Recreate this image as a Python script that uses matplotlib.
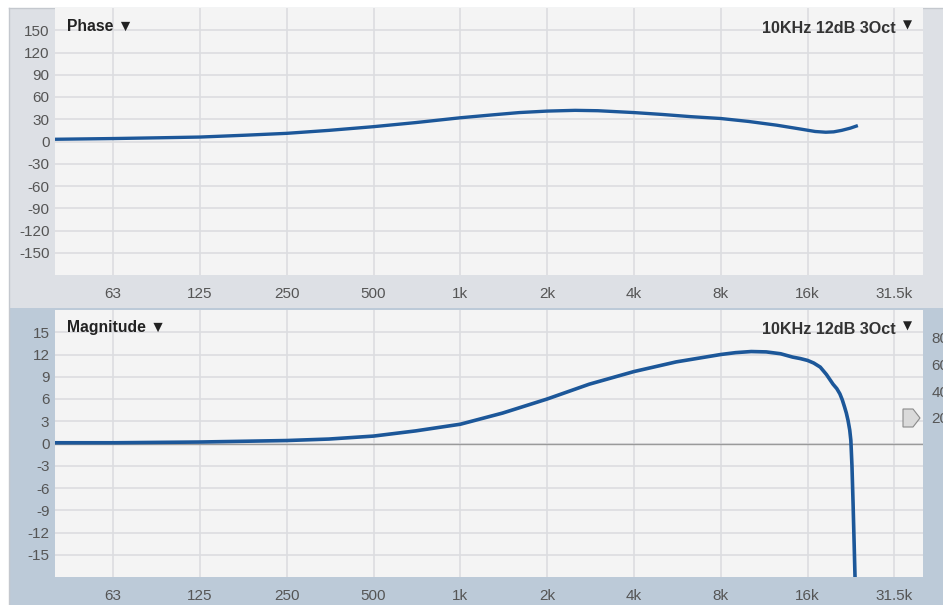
import matplotlib
matplotlib.use("Agg")
import matplotlib.pyplot as plt
from matplotlib.patches import Rectangle, Polygon

plt.rcParams["axes.unicode_minus"] = False

# frequency axis
x_ticks = [62.5, 125, 250, 500, 1000, 2000, 4000, 8000, 16000, 32000]
x_labels = ["63", "125", "250", "500", "1k", "2k", "4k", "8k", "16k", "31.5k"]

# phase response (deg)
phase_freq = [39.3, 63, 90, 125, 180, 250, 350, 500, 700, 1000, 1300, 1600, 2000, 2500,
              3000, 4000, 5000, 6300, 8000, 10000, 12500, 15000, 17000, 18500, 19700,
              21000, 22500, 23900]
phase_deg = [3, 4, 5, 6, 8.5, 11, 15, 20, 25.5, 32, 36, 39, 41, 42,
             41.5, 39, 36.5, 33.5, 31, 27, 22, 17, 13.5, 12.5, 13,
             15, 18, 21.5]

# magnitude response (dB)
mag_freq = [39.3, 63, 125, 250, 350, 500, 700, 1000, 1400, 2000, 2800, 4000, 5600,
            8000, 9000, 10200, 11500, 12900, 14200, 15100, 16000, 16800, 17700, 18600,
            19600, 20200, 20700, 21100, 21500, 21800, 22100, 22400, 22600, 22800,
            23000, 23200, 23400]
mag_db = [0.1, 0.1, 0.2, 0.4, 0.6, 1.0, 1.7, 2.6, 4.1, 6.0, 8.0, 9.7, 11.0,
          12.0, 12.25, 12.4, 12.35, 12.1, 11.65, 11.45, 11.2, 10.85, 10.3, 9.3,
          8.0, 7.4, 6.7, 5.9, 4.9, 4.1, 3.1, 1.8, 0.4, -3,
          -8, -13.5, -19]

phase_ticks = [150, 120, 90, 60, 30, 0, -30, -60, -90, -120, -150]
mag_ticks = [15, 12, 9, 6, 3, 0, -3, -6, -9, -12, -15]
right_ticks = [80, 60, 40, 20]

W, H = 943, 605
fig = plt.figure(figsize=(W / 100, H / 100), dpi=100)
fig.patch.set_facecolor("white")

# background panels drawn in pixel space
bg = fig.add_axes([0, 0, 1, 1])
bg.set_xlim(0, W)
bg.set_ylim(H, 0)
bg.axis("off")
bg.add_patch(Rectangle((9, 8), W - 9, 300, facecolor="#dde0e5", edgecolor="none"))
bg.add_patch(Rectangle((9, 308), W - 9, H - 308, facecolor="#bccad8", edgecolor="none"))
bg.plot([9, W], [8, 8], color="#c4c8ce", lw=1)
bg.plot([9, 9], [8, H], color="#c4c8ce", lw=1)

line_col = "#1c5799"
grid_col = "#dcdde0"
txt_col = "#555555"
fam = ["Liberation Sans", "DejaVu Sans"]


def pix_axes(x0, y0, x1, y1):
    return fig.add_axes([x0 / W, 1 - y1 / H, (x1 - x0) / W, (y1 - y0) / H])


def style(ax, yticks, ylim):
    ax.set_facecolor("#f4f4f4")
    ax.set_xscale("log")
    ax.set_xlim(39.3, 40300)
    ax.set_ylim(*ylim)
    ax.set_xticks(x_ticks)
    ax.set_xticklabels(x_labels)
    ax.xaxis.set_minor_locator(plt.NullLocator())
    ax.set_yticks(yticks)
    ax.grid(True, color=grid_col, lw=1.2)
    ax.set_axisbelow(True)
    for s in ax.spines.values():
        s.set_visible(False)
    ax.tick_params(axis="both", length=0, labelcolor=txt_col, labelsize=11)
    ax.tick_params(axis="x", pad=8.5)
    ax.tick_params(axis="y", pad=4)
    for lab in ax.get_xticklabels() + ax.get_yticklabels():
        lab.set_family(fam)


def header(ax, name, ytext):
    ax.text(0.0138, ytext, name + " \u25bc", transform=ax.transAxes, ha="left", va="center",
            fontsize=11.3, fontweight="bold", color="#222222", family=fam)
    ax.text(0.9686, ytext - 0.008, "10KHz 12dB 3Oct", transform=ax.transAxes, ha="right",
            va="center", fontsize=11.6, fontweight="bold", color="#333333", family=fam)
    ax.text(0.9815, ytext + 0.004, "\u25bc", transform=ax.transAxes, ha="center",
            va="center", fontsize=8.5, color="#222222", family=["DejaVu Sans"])


# phase panel
ax1 = pix_axes(55, 8, 923.3, 275)
style(ax1, phase_ticks, (-180, 180))
ax1.plot(phase_freq, phase_deg, color=line_col, lw=2.4, solid_capstyle="butt")
header(ax1, "Phase", 0.933)

# magnitude panel
ax2 = pix_axes(55, 310, 923.3, 577)
style(ax2, mag_ticks, (-18, 18))
ax2.axhline(0, color="#9a9a9a", lw=1)
ax2.plot(mag_freq, mag_db, color=line_col, lw=2.6, solid_capstyle="butt")
header(ax2, "Magnitude", 0.936)

# clipped right-hand scale
ax3 = ax2.twinx()
ax3.set_ylim(-100, 101)
ax3.set_yticks(right_ticks)
for s in ax3.spines.values():
    s.set_visible(False)
ax3.tick_params(axis="y", length=0, pad=6, labelcolor=txt_col, labelsize=11)
for lab in ax3.get_yticklabels():
    lab.set_family(fam)

# level handle marker, drawn over the plot area in pixel space
ax3.add_patch(Polygon([(903, 409), (913, 409), (920, 418), (913, 427), (903, 427)],
                      closed=True, facecolor="#dadada", edgecolor="#8a8a8a", lw=0.8,
                      transform=bg.transData, clip_on=False, zorder=5))

fig.savefig("out.png", dpi=100)
